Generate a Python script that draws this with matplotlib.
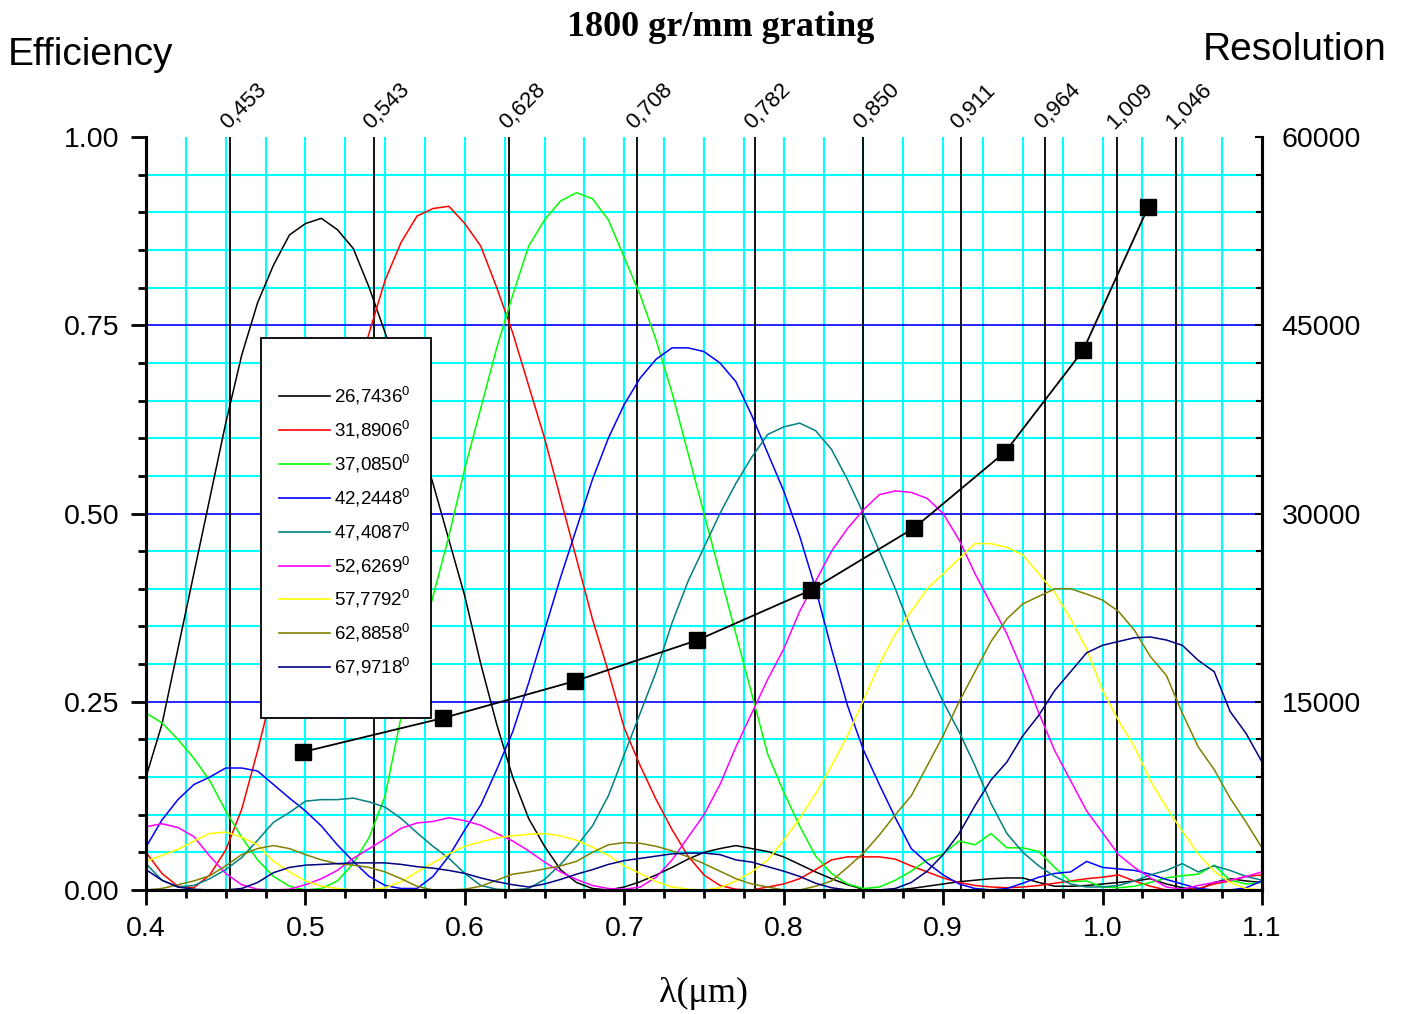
import numpy as np
import matplotlib
matplotlib.use("Agg")
import matplotlib.pyplot as plt
from matplotlib.ticker import MultipleLocator, FixedLocator, FormatStrFormatter
from matplotlib.lines import Line2D
from matplotlib.patches import Rectangle

plt.rcParams['font.family'] = ['Liberation Sans', 'DejaVu Sans']
plt.rcParams['mathtext.default'] = 'regular'

# ---------------- data ----------------
wavelength = [0.40, 0.41, 0.42, 0.43, 0.44, 0.45, 0.46, 0.47, 0.48, 0.49,
              0.50, 0.51, 0.52, 0.53, 0.54, 0.55, 0.56, 0.57, 0.58, 0.59,
              0.60, 0.61, 0.62, 0.63, 0.64, 0.65, 0.66, 0.67, 0.68, 0.69,
              0.70, 0.71, 0.72, 0.73, 0.74, 0.75, 0.76, 0.77, 0.78, 0.79,
              0.80, 0.81, 0.82, 0.83, 0.84, 0.85, 0.86, 0.87, 0.88, 0.89,
              0.90, 0.91, 0.92, 0.93, 0.94, 0.95, 0.96, 0.97, 0.98, 0.99,
              1.00, 1.01, 1.02, 1.03, 1.04, 1.05, 1.06, 1.07, 1.08, 1.09, 1.10]

angle_labels = ["26,7436", "31,8906", "37,0850", "42,2448", "47,4087",
                "52,6269", "57,7792", "62,8858", "67,9718"]
series_colors = ["#000000", "#FF0000", "#00FF00", "#0000FF", "#008080",
                 "#FF00FF", "#FFFF00", "#808000", "#000080"]

eff_26 = [.15, .22, .32, .42, .52, .62, .71, .78, .83, .87,
          .885, .892, .877, .852, .80, .74, .68, .61, .54, .465,
          .39, .30, .22, .15, .095, .058, .027, .01, .002, .0,
          .004, .011, .02, .03, .041, .05, .055, .059, .055, .051,
          .044, .034, .024, .015, .007, .001, .0, .0, .002, .005,
          .008, .011, .013, .015, .016, .016, .01, .005, .005, .006,
          .008, .01, .012, .015, .008, .003, .0, .01, .015, .012, .01]
eff_31 = [.05, .022, .005, .003, .02, .053, .107, .185, .27, .35,
          .43, .51, .59, .67, .74, .81, .86, .895, .905, .908,
          .885, .855, .80, .74, .67, .60, .52, .44, .36, .29,
          .215, .165, .12, .08, .045, .02, .006, .001, .0, .004,
          .008, .015, .027, .04, .044, .044, .044, .041, .032, .024,
          .016, .01, .006, .004, .003, .004, .006, .009, .012, .015,
          .017, .02, .012, .005, .0, .0, .002, .008, .012, .018, .02]
eff_37 = [.235, .222, .20, .175, .145, .105, .07, .04, .018, .005,
          .0, .002, .012, .035, .07, .125, .23, .31, .39, .47,
          .56, .64, .72, .79, .855, .89, .915, .926, .918, .89,
          .84, .79, .73, .66, .58, .50, .42, .34, .26, .18,
          .13, .085, .045, .022, .008, .002, .004, .013, .025, .04,
          .048, .065, .06, .075, .056, .056, .051, .03, .011, .012,
          .004, .003, .005, .01, .016, .019, .021, .033, .013, .008, .01]
eff_42 = [.057, .093, .12, .14, .15, .162, .162, .158, .14, .122,
          .105, .085, .06, .038, .018, .006, .002, .002, .018, .045,
          .08, .113, .16, .21, .275, .345, .415, .48, .545, .60,
          .645, .68, .705, .72, .72, .715, .70, .675, .63, .58,
          .53, .47, .40, .32, .245, .186, .14, .096, .055, .036,
          .02, .008, .002, .0, .002, .009, .017, .022, .024, .038,
          .03, .028, .026, .021, .014, .008, .002, .0, .0, .003, .012]
eff_47 = [.035, .013, .004, .006, .015, .027, .043, .066, .09, .103,
          .118, .12, .12, .122, .117, .11, .095, .076, .058, .042,
          .022, .006, .001, .0, .002, .014, .034, .058, .085, .125,
          .18, .235, .29, .355, .41, .455, .50, .54, .575, .605,
          .615, .62, .61, .585, .545, .50, .45, .40, .345, .295,
          .25, .21, .165, .115, .075, .05, .032, .018, .008, .004,
          .004, .006, .012, .02, .026, .035, .024, .032, .026, .018, .013]
eff_52 = [.084, .088, .083, .071, .045, .022, .007, .001, .0, .001,
          .007, .015, .026, .042, .055, .068, .082, .089, .091, .096,
          .092, .086, .075, .065, .052, .037, .024, .014, .006, .002,
          .001, .004, .017, .04, .07, .10, .14, .19, .235, .28,
          .32, .37, .41, .45, .48, .505, .525, .53, .528, .52,
          .50, .465, .42, .38, .34, .29, .235, .185, .145, .105,
          .076, .047, .03, .016, .004, .001, .006, .01, .013, .018, .024]
eff_57 = [.038, .046, .054, .065, .075, .077, .07, .06, .038, .024,
          .012, .005, .002, .0, .0, .003, .011, .024, .036, .048,
          .058, .064, .069, .072, .074, .075, .072, .066, .057, .046,
          .032, .022, .011, .004, .001, .0, .003, .012, .024, .04,
          .066, .095, .128, .165, .205, .252, .30, .34, .37, .40,
          .42, .44, .46, .46, .455, .445, .42, .395, .36, .32,
          .265, .225, .19, .145, .11, .078, .048, .025, .01, .002, .0]
eff_62 = [.0, .002, .007, .012, .019, .032, .047, .055, .059, .055,
          .047, .04, .035, .033, .03, .024, .015, .005, .0, .0,
          .001, .005, .013, .021, .024, .028, .032, .038, .05, .06,
          .063, .062, .058, .052, .044, .035, .025, .015, .008, .004,
          .0, .0, .005, .012, .03, .049, .073, .10, .125, .165,
          .205, .25, .29, .33, .36, .38, .39, .40, .40, .393,
          .385, .37, .345, .31, .285, .235, .19, .16, .122, .09, .056]
eff_67 = [.027, .013, .004, .001, .0, .0, .002, .01, .023, .03,
          .033, .034, .035, .036, .036, .036, .034, .031, .029, .026,
          .022, .016, .011, .007, .004, .008, .014, .021, .027, .034,
          .039, .042, .045, .048, .049, .049, .047, .04, .037, .031,
          .025, .018, .009, .003, .0, .0, .0, .002, .01, .025,
          .047, .075, .112, .146, .17, .205, .232, .265, .29, .315,
          .325, .33, .335, .336, .332, .325, .305, .29, .237, .208, .17]

efficiency = [eff_26, eff_31, eff_37, eff_42, eff_47, eff_52, eff_57, eff_62, eff_67]

blaze_lines = [0.453, 0.543, 0.628, 0.708, 0.782, 0.850, 0.911, 0.964, 1.009, 1.046]
blaze_labels = ["0,453", "0,543", "0,628", "0,708", "0,782", "0,850", "0,911",
                "0,964", "1,009", "1,046"]

res_x = [0.4985, 0.5863, 0.6691, 0.7457, 0.8172, 0.8818, 0.9389, 0.9878, 1.0286]
res_y = [11000, 13700, 16650, 19900, 23900, 28850, 34900, 43000, 54400]

# ---------------- figure ----------------
W, H = 1406, 1014
fig = plt.figure(figsize=(W / 100, H / 100), dpi=100)
ax = fig.add_axes([146 / W, 1 - 890 / H, 1116 / W, 753 / H])
ax.set_xlim(0.4, 1.1)
ax.set_ylim(0, 1)

# grid
for xv in np.arange(0.425, 1.1, 0.025):
    ax.axvline(xv, color="#00FFFF", lw=1.5, zorder=1)
for k in range(1, 20):
    yv = k * 0.05
    if k % 5 == 0:
        ax.axhline(yv, color="#0000FF", lw=1.2, zorder=1.2)
    else:
        ax.axhline(yv, color="#00FFFF", lw=1.5, zorder=1)

# blaze wavelength lines
for v, lab in zip(blaze_lines, blaze_labels):
    ax.axvline(v, color="black", lw=1.3, zorder=2)
    ax.annotate(lab, xy=(v, 1.0), xycoords=("data", "axes fraction"),
                xytext=(-2, 5), textcoords="offset points", rotation=45,
                rotation_mode="anchor", ha="left", va="baseline", fontsize=16)

# efficiency curves
for vals, c in zip(efficiency, series_colors):
    ax.plot(wavelength, vals, color=c, lw=1.1, zorder=3)

# axes styling
for s in ["left", "bottom", "right"]:
    ax.spines[s].set_linewidth(2.2)
ax.spines["top"].set_visible(False)
ax.xaxis.set_major_locator(MultipleLocator(0.1))
ax.xaxis.set_minor_locator(MultipleLocator(0.025))
ax.xaxis.set_major_formatter(FormatStrFormatter("%.1f"))
ax.yaxis.set_major_locator(MultipleLocator(0.25))
ax.yaxis.set_minor_locator(MultipleLocator(0.05))
ax.yaxis.set_major_formatter(FormatStrFormatter("%.2f"))
ax.tick_params(axis="both", which="major", direction="out", length=11, width=2,
               labelsize=20.5, pad=8, top=False, right=False)
ax.tick_params(axis="both", which="minor", direction="out", length=6, width=2,
               top=False, right=False)

# resolution axis
ax2 = ax.twinx()
ax2.set_ylim(0, 60000)
ax2.spines["top"].set_visible(False)
for s in ["left", "bottom", "right"]:
    ax2.spines[s].set_linewidth(2.2)
ax2.yaxis.set_major_locator(FixedLocator([15000, 30000, 45000, 60000]))
ax2.yaxis.set_minor_locator(MultipleLocator(3000))
ax2.tick_params(axis="y", which="major", direction="in", length=5, width=1.5,
                labelsize=20.5, pad=14)
ax2.tick_params(axis="y", which="minor", direction="in", length=4, width=1.5)
ax2.plot(res_x, res_y, color="black", lw=1.3, marker="s", ms=11,
         markerfacecolor="black", markeredgecolor="black", zorder=5)

# legend box (drawn manually)
lx0, ly0 = (261 - 146) / 1116, (890 - 718) / 753
lw_, lh_ = 170 / 1116, 380 / 753
ax2.add_patch(Rectangle((lx0, ly0), lw_, lh_, transform=ax2.transAxes,
                        facecolor="white", edgecolor="black", lw=1.3, zorder=10))
h0, h1, tx = (279 - 146) / 1116, (330 - 146) / 1116, (334 - 146) / 1116
row0, drow = (890 - 396) / 753, 33.9 / 753
for i, (lab, c) in enumerate(zip(angle_labels, series_colors)):
    yy = row0 - i * drow
    ax2.add_line(Line2D([h0, h1], [yy, yy], transform=ax2.transAxes,
                        color=c, lw=1.2, zorder=11))
    ax2.text(tx, yy, lab + r"$^{0}$", transform=ax2.transAxes, fontsize=13.5,
             ha="left", va="center", zorder=11)

# texts
fig.text(721 / W, 1 - 28 / H, "1800 gr/mm grating", ha="center", va="center",
         fontsize=26, fontweight="bold", family="Liberation Serif")
fig.text(8 / W, 1 - 55 / H, "Efficiency", ha="left", va="center", fontsize=28)
fig.text(1386 / W, 1 - 50 / H, "Resolution", ha="right", va="center", fontsize=28)
fig.text(703 / W, 1 - 993 / H, "λ(μm)", ha="center", va="center", fontsize=26,
         family="Liberation Serif")

fig.savefig("out.png", dpi=100)
